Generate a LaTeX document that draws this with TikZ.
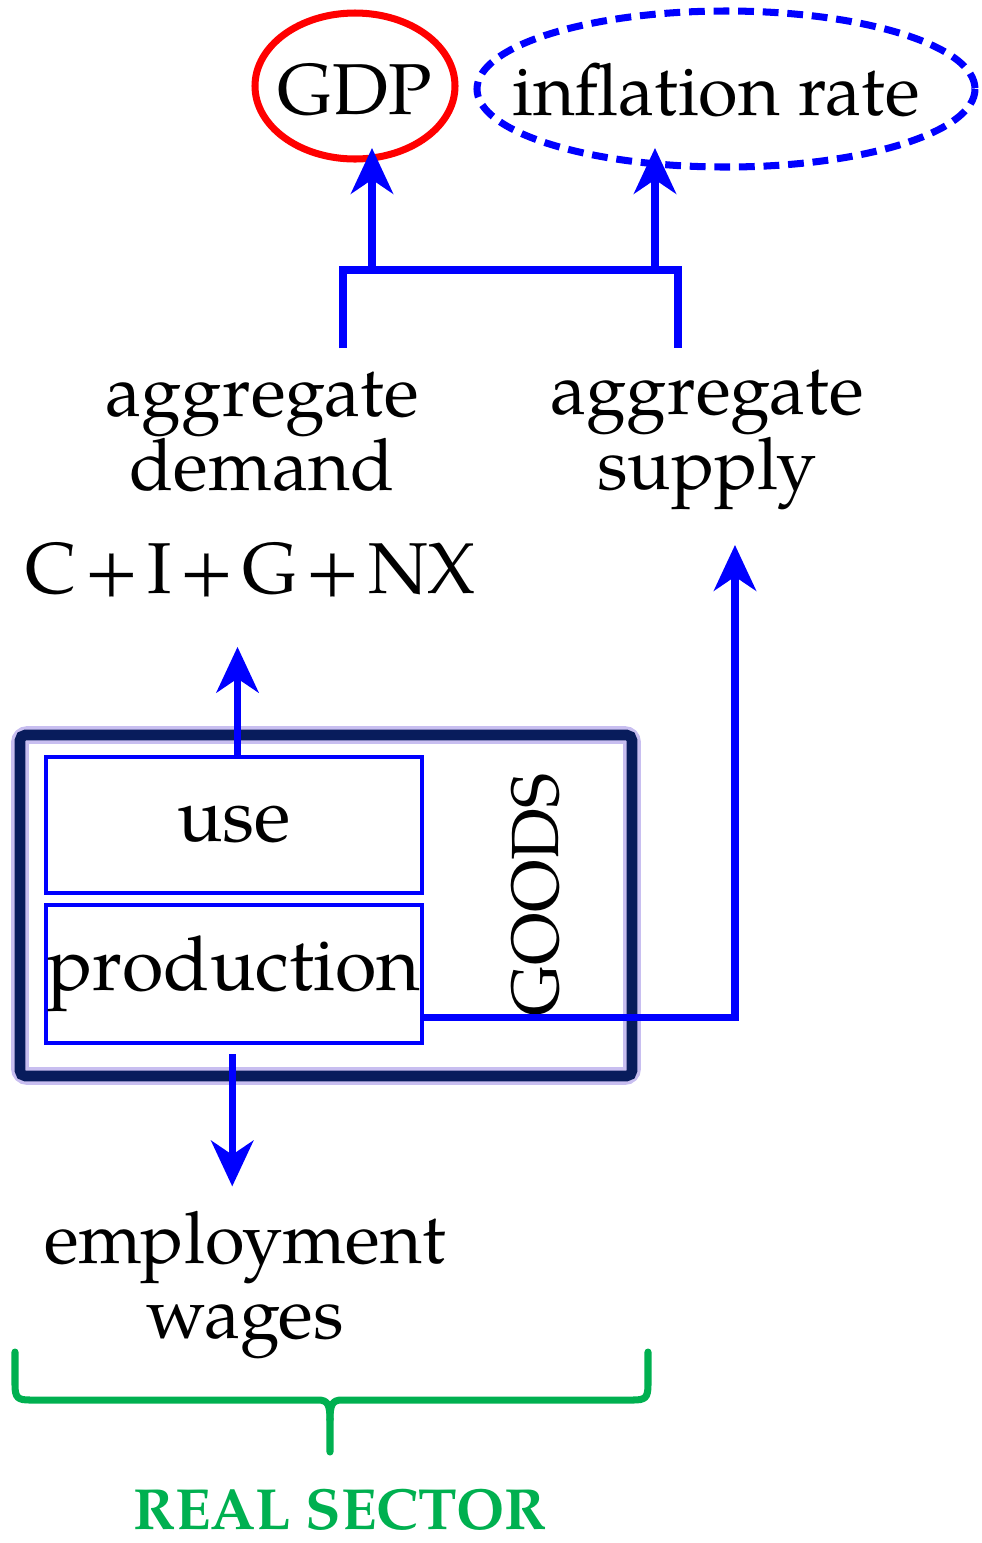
\documentclass[tikz,border=0pt]{standalone}
\usepackage{fontspec}
\setmainfont{TeX Gyre Pagella}
\usetikzlibrary{arrows.meta}
\definecolor{navybox}{RGB}{8,28,92}
\definecolor{glow}{RGB}{200,190,240}
\definecolor{sectorgreen}{RGB}{0,176,80}
\begin{document}
\begin{tikzpicture}[x=0.02cm,y=-0.02cm,
  txt/.style={font=\fontsize{41}{42.5}\selectfont,align=center,inner sep=0pt},
  flow/.style={blue,line width=4pt},
  part/.style={draw=blue,line width=2.8pt,minimum width=7.52cm,inner sep=0pt,
    font=\fontsize{43}{45}\selectfont},
  >={Stealth[length=26pt,width=24pt,inset=8pt]}]
  \useasboundingbox (0,0) rectangle (982,1543);
  % targets
  \node[txt] (gdp) at (355,90) {GDP};
  \draw[red,line width=4pt] (gdp.center |- 0,86) ellipse (100 and 73);
  \node[txt] (infl) at (716,90) {inflation rate};
  \draw[blue,line width=4pt,dash pattern=on 9pt off 5pt] (726,89) ellipse (249 and 78);
  \node[txt] (ad) at (262,432) {aggregate\\demand};
  \node[txt] (as) at (707,440) {aggregate\\supply};
  \node[txt] (cig) at (251,570) {C\hspace{0.11em}+\hspace{0.11em}I\hspace{0.11em}+\hspace{0.11em}G\hspace{0.11em}+\hspace{0.11em}NX};
  % goods box
  \draw[glow,line width=10pt,rounded corners=4pt] (20,735) rectangle (632,1076);
  \draw[navybox,line width=6pt,rounded corners=3pt] (20,735) rectangle (632,1076);
  \node[part,minimum height=2.72cm] (use) at (234,825) {\raisebox{-10pt}{use}};
  \node[part,minimum height=2.76cm] (prod) at (234,974) {production};
  \node[txt,font=\fontsize{38}{40}\selectfont,rotate=90] (goods) at (535,895) {GOODS};
  \node[txt] (emp) at (245,1285) {employment\\wages};
  \node[txt,font=\fontsize{33}{35}\selectfont\bfseries,text=sectorgreen] (real) at (340,1510) {REAL SECTOR};
  % connectors
  \coordinate (adtop) at (343,348);
  \coordinate (astop) at (678,348);
  \coordinate (gdpin) at (372,148);
  \coordinate (inflin) at (655,148);
  \coordinate (asin) at (735,545);
  \draw[flow] (adtop) |- (astop |- 0,270) -- (astop);
  \draw[flow,->] (gdpin |- 0,270) -- (gdpin);
  \draw[flow,->] (inflin |- 0,270) -- (inflin);
  \draw[flow,->] ([xshift=2pt]use.north) -- ([xshift=2pt,yshift=-28pt]use.north |- cig.south);
  \draw[flow,->] ([yshift=-25pt]prod.east) -| (asin);
  \draw[flow,->] ([xshift=-1pt,yshift=-5pt]prod.south) -- ([xshift=-1pt,yshift=14pt]prod.south |- emp.north);
  % brace
  \draw[sectorgreen,line width=4pt,line cap=round,line join=round]
    (15,1352) -- (15,1385) .. controls (15,1398) and (18,1400) .. (30,1400)
    -- (318,1400) .. controls (328,1400) and (330,1405) .. (330,1420) -- (330,1452);
  \draw[sectorgreen,line width=4pt,line cap=round,line join=round]
    (648,1352) -- (648,1385) .. controls (648,1398) and (645,1400) .. (633,1400)
    -- (342,1400) .. controls (332,1400) and (330,1405) .. (330,1420);
\end{tikzpicture}
\end{document}
